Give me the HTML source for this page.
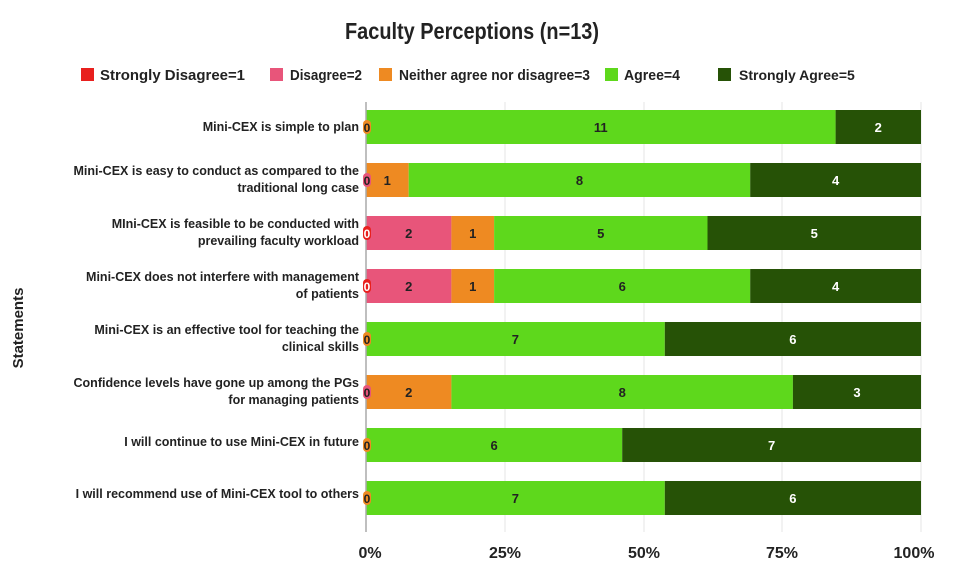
<!DOCTYPE html>
<html><head><meta charset="utf-8"><style>body{margin:0;background:#fff}svg{display:block}text{font-family:"Liberation Sans Narrow","Liberation Sans",sans-serif;font-weight:bold}</style></head>
<body>
<svg width="954" height="578" xmlns="http://www.w3.org/2000/svg">
<text x="472" y="39" font-size="23" text-anchor="middle" textLength="254" lengthAdjust="spacingAndGlyphs" fill="#222">Faculty Perceptions (n=13)</text>
<g font-size="15" fill="#222">
<rect x="81" y="68" width="13" height="13" fill="#e8201e"/><text x="100" y="80" textLength="145" lengthAdjust="spacingAndGlyphs">Strongly Disagree=1</text>
<rect x="270" y="68" width="13" height="13" fill="#e8557a"/><text x="290" y="80" textLength="72" lengthAdjust="spacingAndGlyphs">Disagree=2</text>
<rect x="379" y="68" width="13" height="13" fill="#ee8a22"/><text x="399" y="80" textLength="191" lengthAdjust="spacingAndGlyphs">Neither agree nor disagree=3</text>
<rect x="605" y="68" width="13" height="13" fill="#5ed81c"/><text x="624" y="80" textLength="56" lengthAdjust="spacingAndGlyphs">Agree=4</text>
<rect x="718" y="68" width="13" height="13" fill="#265206"/><text x="739" y="80" font-size="14">Strongly Agree=5</text>
</g>
<g stroke="#e4e4e4" stroke-width="1"><line x1="505" y1="102" x2="505" y2="532"/><line x1="644" y1="102" x2="644" y2="532"/><line x1="782" y1="102" x2="782" y2="532"/><line x1="921" y1="102" x2="921" y2="532"/></g>
<text transform="translate(23,328) rotate(-90)" font-size="15" text-anchor="middle" fill="#222">Statements</text>
<g font-size="16" text-anchor="middle" fill="#222">
<text x="370" y="558">0%</text><text x="505" y="558">25%</text><text x="644" y="558">50%</text><text x="782" y="558">75%</text><text x="914" y="558">100%</text>
</g>
<g>
<rect x="366" y="110" width="469.6" height="34" fill="#5ed81c"/><rect x="835.6" y="110" width="85.4" height="34" fill="#265206"/>
<rect x="366" y="163" width="42.7" height="34" fill="#ee8a22"/><rect x="408.7" y="163" width="341.5" height="34" fill="#5ed81c"/><rect x="750.2" y="163" width="170.8" height="34" fill="#265206"/>
<rect x="366" y="216" width="85.4" height="34" fill="#e8557a"/><rect x="451.4" y="216" width="42.7" height="34" fill="#ee8a22"/><rect x="494.1" y="216" width="213.4" height="34" fill="#5ed81c"/><rect x="707.5" y="216" width="213.5" height="34" fill="#265206"/>
<rect x="366" y="269" width="85.4" height="34" fill="#e8557a"/><rect x="451.4" y="269" width="42.7" height="34" fill="#ee8a22"/><rect x="494.1" y="269" width="256.1" height="34" fill="#5ed81c"/><rect x="750.2" y="269" width="170.8" height="34" fill="#265206"/>
<rect x="366" y="322" width="298.8" height="34" fill="#5ed81c"/><rect x="664.8" y="322" width="256.2" height="34" fill="#265206"/>
<rect x="366" y="375" width="85.4" height="34" fill="#ee8a22"/><rect x="451.4" y="375" width="341.5" height="34" fill="#5ed81c"/><rect x="792.9" y="375" width="128.1" height="34" fill="#265206"/>
<rect x="366" y="428" width="256.2" height="34" fill="#5ed81c"/><rect x="622.2" y="428" width="298.8" height="34" fill="#265206"/>
<rect x="366" y="481" width="298.8" height="34" fill="#5ed81c"/><rect x="664.8" y="481" width="256.2" height="34" fill="#265206"/>
</g>
<line x1="366" y1="102" x2="366" y2="532" stroke="#aaa" stroke-width="1.5"/>
<g font-size="13" text-anchor="middle" fill="#222">
<text x="600.8" y="132">11</text><text x="878.3" y="132" fill="#fff">2</text>
<text x="387.3" y="185">1</text><text x="579.5" y="185">8</text><text x="835.6" y="185" fill="#fff">4</text>
<text x="408.7" y="238">2</text><text x="472.7" y="238">1</text><text x="600.8" y="238">5</text><text x="814.3" y="238" fill="#fff">5</text>
<text x="408.7" y="291">2</text><text x="472.7" y="291">1</text><text x="622.2" y="291">6</text><text x="835.6" y="291" fill="#fff">4</text>
<text x="515.4" y="344">7</text><text x="792.9" y="344" fill="#fff">6</text>
<text x="408.7" y="397">2</text><text x="622.2" y="397">8</text><text x="857" y="397" fill="#fff">3</text>
<text x="494.1" y="450">6</text><text x="771.6" y="450" fill="#fff">7</text>
<text x="515.4" y="503">7</text><text x="792.9" y="503" fill="#fff">6</text>
</g>
<g font-size="12" text-anchor="middle">
<rect x="363" y="120" width="8" height="14" rx="4" fill="#ee8a22"/><text x="367" y="132" fill="#222">0</text>
<rect x="363" y="173" width="8" height="14" rx="4" fill="#e8557a"/><text x="367" y="185" fill="#222">0</text>
<rect x="363" y="226" width="8" height="14" rx="4" fill="#e8201e"/><text x="367" y="238" fill="#fff">0</text>
<rect x="363" y="279" width="8" height="14" rx="4" fill="#e8201e"/><text x="367" y="291" fill="#fff">0</text>
<rect x="363" y="332" width="8" height="14" rx="4" fill="#ee8a22"/><text x="367" y="344" fill="#222">0</text>
<rect x="363" y="385" width="8" height="14" rx="4" fill="#e8557a"/><text x="367" y="397" fill="#222">0</text>
<rect x="363" y="438" width="8" height="14" rx="4" fill="#ee8a22"/><text x="367" y="450" fill="#222">0</text>
<rect x="363" y="491" width="8" height="14" rx="4" fill="#ee8a22"/><text x="367" y="503" fill="#222">0</text>
</g>
<g font-size="12.5" text-anchor="end" fill="#222">
<text x="359" y="131">Mini-CEX is simple to plan</text>
<text x="359" y="175">Mini-CEX is easy to conduct as compared to the</text><text x="359" y="192">traditional long case</text>
<text x="359" y="228">MIni-CEX is feasible to be conducted with</text><text x="359" y="245">prevailing faculty workload</text>
<text x="359" y="281">Mini-CEX does not interfere with management</text><text x="359" y="298">of patients</text>
<text x="359" y="334">Mini-CEX is an effective tool for teaching the</text><text x="359" y="351">clinical skills</text>
<text x="359" y="387">Confidence levels have gone up among the PGs</text><text x="359" y="404">for managing patients</text>
<text x="359" y="446">I will continue to use Mini-CEX in future</text>
<text x="359" y="498">I will recommend use of Mini-CEX tool to others</text>
</g>
</svg>
</body></html>
